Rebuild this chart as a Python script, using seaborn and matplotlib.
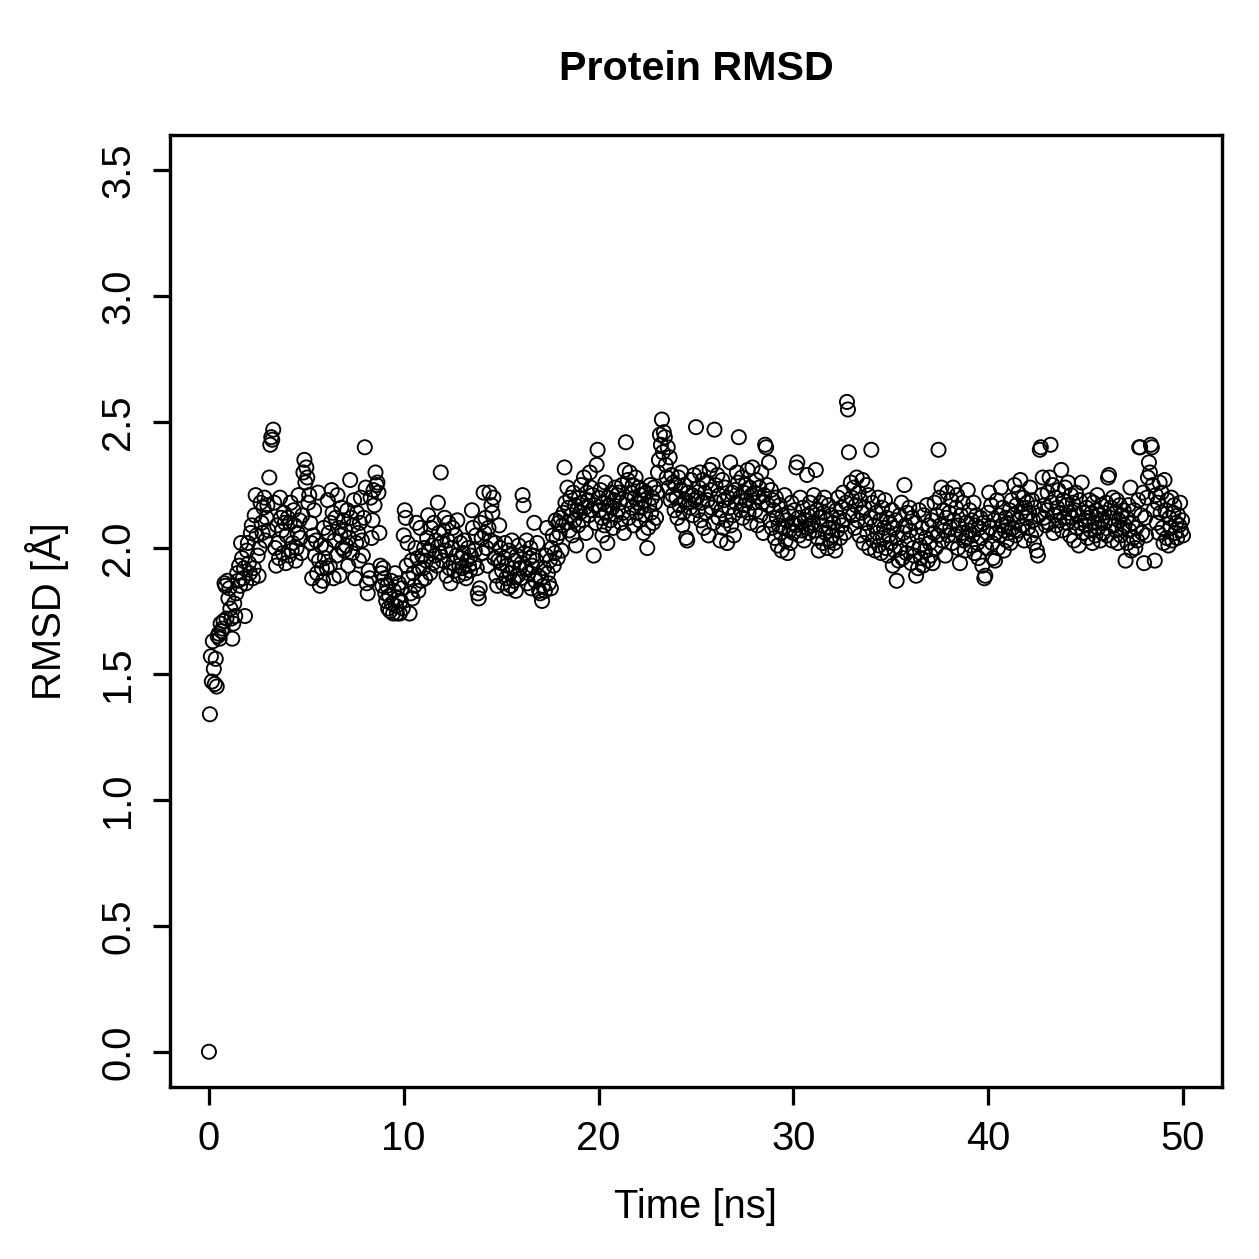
import numpy as np
import pandas as pd
import matplotlib
matplotlib.use("Agg")
import matplotlib.pyplot as plt
import seaborn as sns

# RMSD values, one row per ns (0.05 ns steps)
rmsd = [
    0.00, 1.34, 1.57, 1.47, 1.63, 1.52, 1.46, 1.56, 1.45, 1.65, 1.66, 1.64, 1.70, 1.67, 1.68, 1.71, 1.86, 1.85, 1.72, 1.87,
    1.80, 1.84, 1.76, 1.72, 1.64, 1.70, 1.78, 1.73, 1.82, 1.90, 1.87, 1.93, 1.85, 2.02, 1.96, 1.88, 1.92, 1.73, 1.86, 1.99,
    2.02, 1.94, 1.90, 2.06, 2.09, 1.88, 1.92, 2.13, 2.21, 2.05, 1.97, 1.89, 2.00, 2.18, 2.10, 2.06, 2.16, 2.20, 2.03, 2.12,
    2.17, 2.07, 2.28, 2.41, 2.44, 2.43, 2.47, 2.18, 2.00, 1.93, 2.09, 2.02, 1.96, 2.20, 2.12, 2.07, 1.98, 2.14, 2.10, 1.94,
    2.05, 2.12, 1.97, 2.10, 2.18, 1.99, 2.02, 2.15, 2.09, 1.95, 2.00, 2.06, 2.21, 2.11, 2.04, 1.98, 2.13, 2.30, 2.35, 2.26,
    2.32, 2.28, 2.18, 2.21, 2.10, 2.02, 1.88, 2.05, 2.15, 1.97, 2.03, 1.90, 2.22, 1.95, 1.85, 2.01, 1.92, 1.87, 2.08, 1.96,
    2.00, 1.92, 2.19, 2.06, 1.93, 2.10, 2.23, 2.14, 1.88, 2.03, 2.12, 1.97, 2.21, 2.08, 1.89, 2.05, 2.16, 2.00, 2.11, 1.99,
    2.07, 2.01, 2.15, 1.93, 2.04, 2.27, 2.12, 1.98, 2.09, 2.19, 1.88, 2.02, 2.14, 2.06, 1.95, 2.10, 2.20, 2.03, 1.97, 2.12,
    2.40, 2.24, 1.86, 1.82, 1.91, 1.88, 2.20, 2.04, 2.11, 2.23, 2.17, 2.30, 2.25, 2.26, 2.22, 2.06, 1.93, 1.90, 1.85, 1.92,
    1.88, 1.82, 1.79, 1.85, 1.76, 1.81, 1.75, 1.87, 1.78, 1.74, 1.83, 1.90, 1.77, 1.74, 1.80, 1.86, 1.74, 1.79, 1.84, 1.76,
    2.05, 2.15, 2.12, 1.93, 2.02, 1.88, 1.74, 1.82, 1.95, 1.80, 1.90, 1.85, 2.00, 2.10, 1.96, 1.83, 1.92, 2.08, 1.87, 1.97,
    1.92, 2.00, 1.88, 1.95, 2.04, 2.13, 1.99, 1.90, 2.08, 2.01, 1.94, 2.10, 1.97, 2.03, 1.93, 2.18, 2.06, 1.98, 2.30, 2.02,
    1.95, 2.07, 2.12, 1.99, 1.89, 2.03, 2.10, 1.92, 1.86, 2.00, 2.08, 1.94, 1.91, 2.05, 1.97, 2.11, 1.89, 1.93, 2.02, 1.96,
    1.92, 1.98, 2.03, 1.90, 1.88, 1.95, 2.00, 1.93, 1.91, 1.97, 2.15, 2.08, 1.94, 1.99, 2.05, 1.92, 1.82, 1.80, 1.84, 2.10,
    2.04, 1.98, 2.22, 2.06, 2.12, 2.00, 1.93, 2.08, 2.22, 2.03, 2.17, 2.14, 2.20, 1.96, 2.02, 1.89, 1.85, 1.95, 2.09, 2.00,
    1.94, 1.91, 1.86, 1.96, 2.02, 1.88, 1.93, 1.84, 1.99, 1.90, 1.85, 2.03, 1.92, 1.87, 1.95, 1.83, 1.97, 1.89, 2.01, 1.92,
    1.88, 1.94, 2.21, 2.17, 1.98, 1.92, 2.03, 1.86, 1.90, 1.96, 2.00, 1.84, 1.93, 1.97, 2.10, 1.87, 1.95, 2.02, 1.89, 1.83,
    1.82, 1.88, 1.79, 1.85, 1.92, 1.83, 1.97, 2.08, 1.90, 1.86, 1.95, 1.84, 2.00, 2.05, 1.93, 1.98, 2.11, 2.04, 1.96, 2.10,
    2.06, 2.12, 1.99, 2.09, 2.14, 2.32, 2.18, 2.10, 2.24, 2.16, 2.07, 2.20, 2.13, 2.05, 2.22, 2.11, 2.17, 2.01, 2.15, 2.09,
    2.20, 2.14, 2.25, 2.18, 2.11, 2.28, 2.16, 2.06, 2.22, 2.19, 2.13, 2.30, 2.24, 2.15, 2.21, 1.97, 2.17, 2.10, 2.33, 2.39,
    2.20, 2.15, 2.23, 2.12, 2.05, 2.18, 2.09, 2.26, 2.14, 2.02, 2.20, 2.17, 2.11, 2.22, 2.16, 2.08, 2.19, 2.24, 2.13, 2.21,
    2.15, 2.22, 2.18, 2.10, 2.25, 2.14, 2.06, 2.31, 2.42, 2.19, 2.27, 2.12, 2.30, 2.22, 2.16, 2.25, 2.09, 2.20, 2.28, 2.14,
    2.18, 2.24, 2.11, 2.21, 2.16, 2.23, 2.06, 2.19, 2.13, 2.22, 2.00, 2.08, 2.17, 2.25, 2.14, 2.20, 2.10, 2.24, 2.18, 2.12,
    2.22, 2.30, 2.35, 2.45, 2.41, 2.51, 2.38, 2.46, 2.44, 2.33, 2.28, 2.40, 2.24, 2.36, 2.19, 2.29, 2.21, 2.26, 2.15, 2.25,
    2.20, 2.12, 2.28, 2.17, 2.23, 2.30, 2.09, 2.14, 2.25, 2.19, 2.04, 2.03, 2.22, 2.18, 2.16, 2.27, 2.21, 2.13, 2.29, 2.19,
    2.48, 2.20, 2.15, 2.24, 2.30, 2.11, 2.18, 2.27, 2.08, 2.22, 2.14, 2.26, 2.19, 2.05, 2.31, 2.23, 2.16, 2.33, 2.10, 2.47,
    2.25, 2.18, 2.29, 2.12, 2.21, 2.03, 2.15, 2.27, 2.08, 2.19, 2.24, 2.11, 2.02, 2.20, 2.16, 2.34, 2.09, 2.22, 2.13, 2.05,
    2.23, 2.18, 2.30, 2.26, 2.44, 2.20, 2.15, 2.28, 2.12, 2.22, 2.17, 2.25, 2.19, 2.31, 2.14, 2.24, 2.10, 2.21, 2.32, 2.18,
    2.22, 2.15, 2.27, 2.09, 2.20, 2.24, 2.13, 2.30, 2.18, 2.06, 2.21, 2.41, 2.40, 2.25, 2.17, 2.34, 2.11, 2.23, 2.08, 2.19,
    2.15, 2.04, 2.20, 2.12, 2.01, 2.09, 2.17, 2.06, 1.99, 2.13, 2.08, 2.21, 2.03, 2.11, 1.98, 2.14, 2.07, 2.02, 2.18, 2.10,
    2.06, 2.15, 2.09, 2.32, 2.34, 2.12, 2.05, 2.20, 2.10, 2.07, 2.16, 2.03, 2.11, 2.08, 2.29, 2.13, 2.06, 2.18, 2.09, 2.14,
    2.10, 2.21, 2.07, 2.31, 2.15, 2.04, 1.99, 2.12, 2.18, 2.09, 2.02, 2.14, 2.20, 2.06, 2.11, 2.00, 2.17, 2.08, 2.03, 2.13,
    2.05, 2.10, 2.02, 1.99, 2.15, 2.07, 2.20, 2.12, 2.04, 2.16, 2.09, 2.22, 2.11, 2.06, 2.18, 2.58, 2.55, 2.38, 2.14, 2.26,
    2.20, 2.13, 2.24, 2.08, 2.17, 2.28, 2.11, 2.22, 2.05, 2.19, 2.14, 2.27, 2.02, 2.16, 2.10, 2.25, 2.06, 2.21, 2.00, 2.12,
    2.39, 2.18, 2.03, 2.09, 1.99, 2.14, 2.06, 2.20, 2.01, 2.11, 1.98, 2.16, 2.04, 2.08, 2.19, 2.00, 2.12, 1.97, 2.05, 2.10,
    2.02, 2.15, 1.93, 2.08, 1.99, 2.11, 1.87, 2.04, 1.95, 2.13, 2.00, 2.18, 1.96, 2.06, 2.25, 2.09, 1.98, 2.14, 2.03, 2.16,
    2.07, 1.94, 2.12, 2.00, 1.97, 2.10, 1.89, 2.05, 1.92, 2.15, 2.01, 1.96, 2.08, 1.93, 2.13, 1.99, 2.04, 2.17, 1.95, 2.09,
    2.02, 1.97, 2.11, 1.94, 2.06, 2.18, 2.00, 2.13, 2.05, 2.39, 2.20, 2.09, 2.24, 2.03, 2.15, 2.07, 1.97, 2.12, 2.22, 2.05,
    2.14, 2.08, 2.19, 2.02, 2.24, 2.11, 2.05, 2.16, 2.21, 2.00, 2.09, 1.94, 2.13, 2.06, 2.18, 2.03, 1.99, 2.10, 2.04, 2.23,
    2.07, 2.15, 2.01, 2.11, 2.05, 2.18, 1.98, 2.09, 2.13, 2.02, 1.96, 2.08, 2.12, 2.04, 1.93, 2.10, 1.88, 1.89, 2.00, 2.06,
    2.14, 2.22, 2.08, 2.17, 2.02, 1.96, 2.11, 1.95, 2.06, 2.19, 2.00, 2.13, 2.05, 2.24, 2.09, 2.16, 1.99, 2.07, 2.12, 2.03,
    2.10, 2.06, 2.15, 2.02, 2.19, 2.08, 2.13, 2.25, 2.05, 2.17, 2.11, 2.22, 2.07, 2.27, 2.14, 2.09, 2.20, 2.03, 2.16, 2.12,
    2.18, 2.08, 2.14, 2.24, 2.05, 2.19, 2.11, 2.02, 2.16, 2.07, 1.99, 1.97, 2.13, 2.39, 2.40, 2.21, 2.28, 2.12, 2.17, 2.09,
    2.15, 2.22, 2.10, 2.28, 2.41, 2.18, 2.25, 2.06, 2.13, 2.20, 2.09, 2.16, 2.23, 2.11, 2.14, 2.31, 2.07, 2.19, 2.12, 2.24,
    2.17, 2.10, 2.26, 2.14, 2.05, 2.21, 2.12, 2.18, 2.03, 2.15, 2.22, 2.08, 2.13, 2.01, 2.19, 2.10, 2.26, 2.06, 2.14, 2.11,
    2.09, 2.16, 2.04, 2.12, 2.19, 2.07, 2.14, 2.02, 2.18, 2.10, 2.05, 2.15, 2.21, 2.08, 2.13, 2.03, 2.17, 2.11, 2.06, 2.14,
    2.10, 2.18, 2.05, 2.28, 2.29, 2.12, 2.16, 2.03, 2.20, 2.09, 2.14, 2.07, 2.19, 2.02, 2.11, 2.17, 2.05, 2.13, 2.08, 2.15,
    2.09, 1.95, 2.12, 2.02, 2.17, 2.07, 2.24, 1.99, 2.10, 2.04, 2.15, 2.00, 2.08, 2.03, 2.19, 2.40, 2.40, 2.13, 2.06, 2.22,
    1.94, 2.12, 2.05, 2.20, 2.28, 2.34, 2.30, 2.41, 2.40, 2.25, 2.15, 1.95, 2.21, 2.10, 2.18, 2.06, 2.26, 2.14, 2.22, 2.08,
    2.02, 2.27, 2.15, 2.04, 2.19, 2.01, 2.12, 2.08, 2.20, 2.03, 2.14, 2.17, 2.06, 2.10, 2.04, 2.13, 2.09, 2.18, 2.07, 2.11,
    2.05,
]
time_ns = np.linspace(0, 50, len(rmsd))

x_ticks = [0, 10, 20, 30, 40, 50]
y_ticks = [0.0, 0.5, 1.0, 1.5, 2.0, 2.5, 3.0, 3.5]

df = pd.DataFrame({"time": time_ns, "rmsd": rmsd})

sns.set_style("ticks")
plt.rcParams['font.family'] = ['Liberation Sans', 'DejaVu Sans']

fig = plt.figure(figsize=(1259 / 180, 1259 / 180), dpi=180)
ax = fig.add_axes([0.135, 0.1366, 0.8356, 0.7562])

sns.scatterplot(data=df, x="time", y="rmsd", ax=ax, marker="o", s=32,
                facecolors="none", edgecolor="black", linewidth=0.75)

ax.set_xlim(-2, 52)
ax.set_ylim(-0.14, 3.64)
ax.set_xticks(x_ticks)
ax.set_xticklabels([str(v) for v in x_ticks])
ax.set_yticks(y_ticks)
ax.set_yticklabels([f"{v:.1f}" for v in y_ticks], rotation=90, va="center")

for side in ["top", "right", "bottom", "left"]:
    ax.spines[side].set_visible(True)
    ax.spines[side].set_linewidth(1.35)
    ax.spines[side].set_color("black")

ax.tick_params(axis="both", length=7, width=1.3, labelsize=16, pad=6,
               colors="black", labelcolor="black")
ax.set_xlabel("Time [ns]", fontsize=16, labelpad=12, color="black")
ax.set_ylabel("RMSD [Å]", fontsize=16, labelpad=12, color="black")
ax.set_title("Protein RMSD", fontsize=16.5, fontweight="bold", pad=22, color="black")

fig.savefig("out.png", dpi=180)
